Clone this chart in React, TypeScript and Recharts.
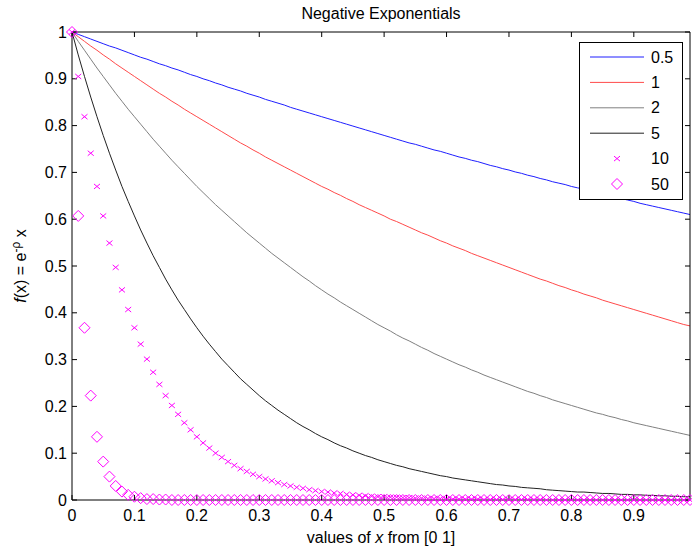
import React from 'react';
import { LineChart, Line, XAxis, YAxis, Legend } from 'recharts';

// x samples, 0 .. 0.99
const xs = [
  0, 0.01, 0.02, 0.03, 0.04, 0.05, 0.06, 0.07, 0.08, 0.09,
  0.1, 0.11, 0.12, 0.13, 0.14, 0.15, 0.16, 0.17, 0.18, 0.19,
  0.2, 0.21, 0.22, 0.23, 0.24, 0.25, 0.26, 0.27, 0.28, 0.29,
  0.3, 0.31, 0.32, 0.33, 0.34, 0.35, 0.36, 0.37, 0.38, 0.39,
  0.4, 0.41, 0.42, 0.43, 0.44, 0.45, 0.46, 0.47, 0.48, 0.49,
  0.5, 0.51, 0.52, 0.53, 0.54, 0.55, 0.56, 0.57, 0.58, 0.59,
  0.6, 0.61, 0.62, 0.63, 0.64, 0.65, 0.66, 0.67, 0.68, 0.69,
  0.7, 0.71, 0.72, 0.73, 0.74, 0.75, 0.76, 0.77, 0.78, 0.79,
  0.8, 0.81, 0.82, 0.83, 0.84, 0.85, 0.86, 0.87, 0.88, 0.89,
  0.9, 0.91, 0.92, 0.93, 0.94, 0.95, 0.96, 0.97, 0.98, 0.99,
];

const rho05 = [
  1.0, 0.995, 0.99, 0.985, 0.98, 0.975, 0.97, 0.966, 0.961, 0.956,
  0.951, 0.946, 0.942, 0.937, 0.932, 0.928, 0.923, 0.919, 0.914, 0.909,
  0.905, 0.9, 0.896, 0.891, 0.887, 0.882, 0.878, 0.874, 0.869, 0.865,
  0.861, 0.856, 0.852, 0.848, 0.844, 0.839, 0.835, 0.831, 0.827, 0.823,
  0.819, 0.815, 0.811, 0.807, 0.803, 0.799, 0.795, 0.791, 0.787, 0.783,
  0.779, 0.775, 0.771, 0.767, 0.763, 0.76, 0.756, 0.752, 0.748, 0.745,
  0.741, 0.737, 0.733, 0.73, 0.726, 0.723, 0.719, 0.715, 0.712, 0.708,
  0.705, 0.701, 0.698, 0.694, 0.691, 0.687, 0.684, 0.68, 0.677, 0.674,
  0.67, 0.667, 0.664, 0.66, 0.657, 0.654, 0.651, 0.647, 0.644, 0.641,
  0.638, 0.634, 0.631, 0.628, 0.625, 0.622, 0.619, 0.616, 0.613, 0.61,
];

const rho1 = [
  1.0, 0.99, 0.98, 0.97, 0.961, 0.951, 0.942, 0.932, 0.923, 0.914,
  0.905, 0.896, 0.887, 0.878, 0.869, 0.861, 0.852, 0.844, 0.835, 0.827,
  0.819, 0.811, 0.803, 0.795, 0.787, 0.779, 0.771, 0.763, 0.756, 0.748,
  0.741, 0.733, 0.726, 0.719, 0.712, 0.705, 0.698, 0.691, 0.684, 0.677,
  0.67, 0.664, 0.657, 0.651, 0.644, 0.638, 0.631, 0.625, 0.619, 0.613,
  0.607, 0.6, 0.595, 0.589, 0.583, 0.577, 0.571, 0.566, 0.56, 0.554,
  0.549, 0.543, 0.538, 0.533, 0.527, 0.522, 0.517, 0.512, 0.507, 0.502,
  0.497, 0.492, 0.487, 0.482, 0.477, 0.472, 0.468, 0.463, 0.458, 0.454,
  0.449, 0.445, 0.44, 0.436, 0.432, 0.427, 0.423, 0.419, 0.415, 0.411,
  0.407, 0.403, 0.399, 0.395, 0.391, 0.387, 0.383, 0.379, 0.375, 0.372,
];

const rho2 = [
  1.0, 0.98, 0.961, 0.942, 0.923, 0.905, 0.887, 0.869, 0.852, 0.835,
  0.819, 0.803, 0.787, 0.771, 0.756, 0.741, 0.726, 0.712, 0.698, 0.684,
  0.67, 0.657, 0.644, 0.631, 0.619, 0.607, 0.595, 0.583, 0.571, 0.56,
  0.549, 0.538, 0.527, 0.517, 0.507, 0.497, 0.487, 0.477, 0.468, 0.458,
  0.449, 0.44, 0.432, 0.423, 0.415, 0.407, 0.399, 0.391, 0.383, 0.375,
  0.368, 0.361, 0.353, 0.346, 0.34, 0.333, 0.326, 0.32, 0.313, 0.307,
  0.301, 0.295, 0.289, 0.284, 0.278, 0.273, 0.267, 0.262, 0.257, 0.252,
  0.247, 0.242, 0.237, 0.232, 0.228, 0.223, 0.219, 0.214, 0.21, 0.206,
  0.202, 0.198, 0.194, 0.19, 0.186, 0.183, 0.179, 0.176, 0.172, 0.169,
  0.165, 0.162, 0.159, 0.156, 0.153, 0.15, 0.147, 0.144, 0.141, 0.138,
];

const rho5 = [
  1.0, 0.951, 0.905, 0.861, 0.819, 0.779, 0.741, 0.705, 0.67, 0.638,
  0.607, 0.577, 0.549, 0.522, 0.497, 0.472, 0.449, 0.427, 0.407, 0.387,
  0.368, 0.35, 0.333, 0.317, 0.301, 0.287, 0.273, 0.259, 0.247, 0.235,
  0.223, 0.212, 0.202, 0.192, 0.183, 0.174, 0.165, 0.157, 0.15, 0.142,
  0.135, 0.129, 0.122, 0.116, 0.111, 0.105, 0.1, 0.095, 0.091, 0.086,
  0.082, 0.078, 0.074, 0.071, 0.067, 0.064, 0.061, 0.058, 0.055, 0.052,
  0.05, 0.047, 0.045, 0.043, 0.041, 0.039, 0.037, 0.035, 0.033, 0.032,
  0.03, 0.029, 0.027, 0.026, 0.025, 0.024, 0.022, 0.021, 0.02, 0.019,
  0.018, 0.017, 0.017, 0.016, 0.015, 0.014, 0.014, 0.013, 0.012, 0.012,
  0.011, 0.011, 0.01, 0.01, 0.009, 0.009, 0.008, 0.008, 0.007, 0.007,
];

const rho10 = [
  1.0, 0.905, 0.819, 0.741, 0.67, 0.607, 0.549, 0.497, 0.449, 0.407,
  0.368, 0.333, 0.301, 0.273, 0.247, 0.223, 0.202, 0.183, 0.165, 0.15,
  0.135, 0.122, 0.111, 0.1, 0.091, 0.082, 0.074, 0.067, 0.061, 0.055,
  0.05, 0.045, 0.041, 0.037, 0.033, 0.03, 0.027, 0.025, 0.022, 0.02,
  0.018, 0.017, 0.015, 0.014, 0.012, 0.011, 0.01, 0.009, 0.008, 0.007,
  0.007, 0.006, 0.006, 0.005, 0.005, 0.004, 0.004, 0.003, 0.003, 0.003,
  0.002, 0.002, 0.002, 0.002, 0.002, 0.002, 0.001, 0.001, 0.001, 0.001,
  0.001, 0.001, 0.001, 0.001, 0.001, 0.001, 0, 0, 0, 0,
  0, 0, 0, 0, 0, 0, 0, 0, 0, 0,
  0, 0, 0, 0, 0, 0, 0, 0, 0, 0,
];

const rho50 = [
  1.0, 0.607, 0.368, 0.223, 0.135, 0.082, 0.05, 0.03, 0.018, 0.011,
  0.007, 0.004, 0.002, 0.002, 0.001, 0.001, 0, 0, 0, 0,
  0, 0, 0, 0, 0, 0, 0, 0, 0, 0,
  0, 0, 0, 0, 0, 0, 0, 0, 0, 0,
  0, 0, 0, 0, 0, 0, 0, 0, 0, 0,
  0, 0, 0, 0, 0, 0, 0, 0, 0, 0,
  0, 0, 0, 0, 0, 0, 0, 0, 0, 0,
  0, 0, 0, 0, 0, 0, 0, 0, 0, 0,
  0, 0, 0, 0, 0, 0, 0, 0, 0, 0,
  0, 0, 0, 0, 0, 0, 0, 0, 0, 0,
];

const seriesNames = ['0.5', '1', '2', '5', '10', '50'];
const xTicks = [0, 0.1, 0.2, 0.3, 0.4, 0.5, 0.6, 0.7, 0.8, 0.9];
const yTicks = [0, 0.1, 0.2, 0.3, 0.4, 0.5, 0.6, 0.7, 0.8, 0.9, 1];

const FONT = '"Liberation Sans", Arial, Helvetica, sans-serif';
const MAGENTA = '#ff00ff';

// how each series is drawn (same order as seriesNames).
// all axes share the same domain; series are spread over them so every
// axis (incl. the inward-tick box axes) has something attached.
const styles = [
  { key: 'r05', color: '#1f1fff', kind: 'line', xId: 't', yId: 'r' },
  { key: 'r1', color: '#ff4a4a', kind: 'line', xId: 'bIn', yId: 'lIn' },
  { key: 'r2', color: '#808080', kind: 'line', xId: 'b', yId: 'l' },
  { key: 'r5', color: '#222222', kind: 'line', xId: 'b', yId: 'l' },
  { key: 'r10', color: MAGENTA, kind: 'x', xId: 'b', yId: 'l' },
  { key: 'r50', color: MAGENTA, kind: 'diamond', xId: 'b', yId: 'l' },
];

const rows = xs.map((x, i) => ({
  x,
  r05: rho05[i],
  r1: rho1[i],
  r2: rho2[i],
  r5: rho5[i],
  r10: rho10[i],
  r50: rho50[i],
}));

function xPath(cx: number, cy: number) {
  return `M${cx - 3},${cy - 2.5}L${cx + 3},${cy + 2.5}M${cx - 3},${cy + 2.5}L${cx + 3},${cy - 2.5}`;
}

function diamondPath(cx: number, cy: number) {
  const r = 5.5;
  return `M${cx},${cy - r}L${cx + r},${cy}L${cx},${cy + r}L${cx - r},${cy}Z`;
}

function XDot(props: any) {
  const { cx, cy, index } = props;
  if (cx == null || cy == null) return null;
  return <path key={`x-${index}`} d={xPath(cx, cy)} stroke={MAGENTA} strokeWidth={1} fill="none" />;
}

function DiamondDot(props: any) {
  const { cx, cy, index } = props;
  if (cx == null || cy == null) return null;
  return <path key={`d-${index}`} d={diamondPath(cx, cy)} stroke={MAGENTA} strokeWidth={1} fill="none" />;
}

function LegendBox() {
  return (
    <div
      style={{
        width: 104,
        height: 158,
        border: '1px solid #000',
        background: '#fff',
        boxSizing: 'border-box',
      }}
    >
      <svg width={102} height={156} style={{ display: 'block' }}>
        {seriesNames.map((name, i) => {
          const s = styles[i];
          const y = 14 + i * 25.4;
          let sample: React.ReactNode = null;
          if (s.kind === 'line') {
            sample = <line x1={10} x2={64} y1={y} y2={y} stroke={s.color} strokeWidth={1} />;
          } else if (s.kind === 'x') {
            sample = <path d={xPath(37, y)} stroke={MAGENTA} strokeWidth={1} fill="none" />;
          } else {
            sample = <path d={diamondPath(37, y)} stroke={MAGENTA} strokeWidth={1} fill="none" />;
          }
          return (
            <g key={name}>
              {sample}
              <text x={71} y={y + 5.5} fontSize={16} fontFamily={FONT} fill="#000">
                {name}
              </text>
            </g>
          );
        })}
      </svg>
    </div>
  );
}

const tickStyle = { fontSize: 16, fontFamily: FONT, fill: '#000' };

export default function App() {
  return (
    <div style={{ position: 'absolute', left: 0, top: 0, width: 692, height: 554, background: '#fff' }}>
      <LineChart width={692} height={554} data={rows} margin={{ top: 32, right: 2, bottom: 0, left: 0 }}>
        <XAxis
          xAxisId="b"
          dataKey="x"
          type="number"
          domain={[0, 0.99]}
          ticks={xTicks}
          height={54}
          tickSize={0}
          tickMargin={10}
          tick={tickStyle}
          axisLine={{ stroke: '#000' }}
          label={{
            content: () => (
              <text x={381} y={543} textAnchor="middle" fontSize={16} fontFamily={FONT} fill="#000">
                values of <tspan fontStyle="italic">x</tspan> from [0 1]
              </text>
            ),
          }}
        />
        <XAxis
          xAxisId="bIn"
          dataKey="x"
          type="number"
          domain={[0, 0.99]}
          ticks={xTicks}
          orientation="bottom"
          mirror
          height={1}
          tickSize={5}
          tickFormatter={() => ''}
          tickLine={{ stroke: '#000' }}
          axisLine={false}
        />
        <XAxis
          xAxisId="t"
          dataKey="x"
          type="number"
          domain={[0, 0.99]}
          ticks={xTicks}
          orientation="top"
          mirror
          height={1}
          tickSize={5}
          tickFormatter={() => ''}
          tickLine={{ stroke: '#000' }}
          axisLine={{ stroke: '#000' }}
          label={{
            content: () => (
              <text x={381} y={19} textAnchor="middle" fontSize={16} fontFamily={FONT} fill="#000">
                Negative Exponentials
              </text>
            ),
          }}
        />
        <YAxis
          yAxisId="l"
          type="number"
          domain={[0, 1]}
          ticks={yTicks}
          width={72}
          tickSize={0}
          tickMargin={5}
          tick={tickStyle}
          axisLine={{ stroke: '#000' }}
          label={{
            content: () => (
              <text
                transform="translate(26,266) rotate(-90)"
                textAnchor="middle"
                fontSize={16}
                fontFamily={FONT}
                fill="#000"
              >
                <tspan fontStyle="italic">f</tspan>(x) = e
                <tspan dy={-6} fontSize={12}>-ρ</tspan>
                <tspan dy={6}> x</tspan>
              </text>
            ),
          }}
        />
        <YAxis
          yAxisId="lIn"
          type="number"
          domain={[0, 1]}
          ticks={yTicks}
          orientation="left"
          mirror
          width={1}
          tickSize={5}
          tickFormatter={() => ''}
          tickLine={{ stroke: '#000' }}
          axisLine={false}
        />
        <YAxis
          yAxisId="r"
          type="number"
          domain={[0, 1]}
          ticks={yTicks}
          orientation="right"
          mirror
          width={1}
          tickSize={5}
          tickFormatter={() => ''}
          tickLine={{ stroke: '#000' }}
          axisLine={{ stroke: '#000' }}
        />
        {styles.map((s, i) => (
          <Line
            key={s.key}
            xAxisId={s.xId}
            yAxisId={s.yId}
            type="linear"
            dataKey={s.key}
            name={seriesNames[i]}
            stroke={s.kind === 'line' ? s.color : 'none'}
            strokeWidth={1}
            dot={s.kind === 'x' ? XDot : s.kind === 'diamond' ? DiamondDot : false}
            activeDot={false}
            isAnimationActive={false}
          />
        ))}
        <Legend
          layout="vertical"
          align="center"
          verticalAlign="middle"
          content={() => <LegendBox />}
          wrapperStyle={{ position: 'absolute', left: 579, top: 42, width: 104, height: 158 }}
        />
      </LineChart>
    </div>
  );
}
